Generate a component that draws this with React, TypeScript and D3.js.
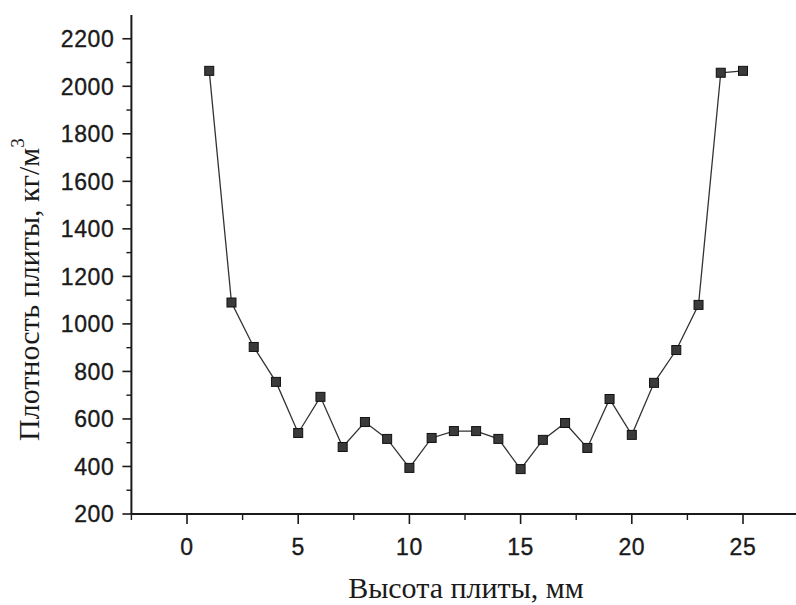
import React from "react";
import * as d3 from "d3";

const heights = [1, 2, 3, 4, 5, 6, 7, 8, 9, 10, 11, 12, 13, 14, 15, 16, 17, 18, 19, 20, 21, 22, 23, 24, 25];
const densities = [2065, 1090, 903, 756, 541, 693, 482, 587, 516, 394, 520, 549, 549, 516, 389, 512, 583, 478, 684, 533, 752, 890, 1080, 2057, 2065];
const xTicks = [0, 5, 10, 15, 20, 25];
const xMinorTicks = [-2.5, 2.5, 7.5, 12.5, 17.5, 22.5, 27.5];
const yTicks = [200, 400, 600, 800, 1000, 1200, 1400, 1600, 1800, 2000, 2200];
const yMinorTicks = [300, 500, 700, 900, 1100, 1300, 1500, 1700, 1900, 2100];
const xTitle = "Высота плиты, мм";
const yTitle = "Плотность плиты, кг/м";

export default function App() {
  const W = 796, H = 605;
  const x = d3.scaleLinear().domain([-2.5, 27.5]).range([131.4, 798.6]);
  const y = d3.scaleLinear().domain([200, 2300]).range([514, 15]);
  const x0 = x(-2.5);
  const yBase = y(200);
  const pts = heights.map((h, i) => [x(h), y(densities[i])] as [number, number]);
  const line = d3.line()(pts) || "";
  const tickFont = "'Liberation Sans', Arial, sans-serif";
  const titleFont = "'Liberation Serif', 'Times New Roman', serif";
  const ink = "#1a1a1a";
  return (
    <svg width={W} height={H} style={{ position: "absolute", left: 0, top: 0, background: "#fff" }}>
      <rect x={0} y={0} width={W} height={H} fill="#fff" />
      <line x1={x0} y1={y(2300)} x2={x0} y2={yBase} stroke={ink} strokeWidth={2} />
      <line x1={x0} y1={yBase} x2={W} y2={yBase} stroke={ink} strokeWidth={2} />
      {yTicks.map((t) => (
        <g key={"y" + t}>
          <line x1={x0 - 9} x2={x0} y1={y(t)} y2={y(t)} stroke={ink} strokeWidth={1.6} />
          <text x={x0 - 17} y={y(t)} dy="0.36em" textAnchor="end" fontFamily={tickFont} fontSize={23} fill={ink} stroke={ink} strokeWidth={0.35} letterSpacing={0.6}>
            {t}
          </text>
        </g>
      ))}
      {yMinorTicks.map((t) => (
        <line key={"ym" + t} x1={x0 - 5} x2={x0} y1={y(t)} y2={y(t)} stroke={ink} strokeWidth={1.4} />
      ))}
      {xTicks.map((t) => (
        <g key={"x" + t}>
          <line x1={x(t)} x2={x(t)} y1={yBase} y2={yBase + 10} stroke={ink} strokeWidth={1.6} />
          <text x={x(t)} y={555} textAnchor="middle" fontFamily={tickFont} fontSize={23} fill={ink} stroke={ink} strokeWidth={0.35} letterSpacing={0.6}>
            {t}
          </text>
        </g>
      ))}
      {xMinorTicks.map((t) => (
        <line key={"xm" + t} x1={x(t)} x2={x(t)} y1={yBase} y2={yBase + 6} stroke={ink} strokeWidth={1.4} />
      ))}
      <path d={line} fill="none" stroke="#333" strokeWidth={1.3} />
      {pts.map(([px, py], i) => (
        <rect key={"p" + i} x={px - 4.5} y={py - 4.5} width={9} height={9} fill="#3a3a3a" stroke="#111" strokeWidth={1} />
      ))}
      <text x={466} y={598} textAnchor="middle" fontFamily={titleFont} fontSize={30} fill={ink}>
        {xTitle}
      </text>
      <text transform={`translate(39,441) rotate(-90)`} textAnchor="start" fontFamily={titleFont} fontSize={30} fill={ink}>
        {yTitle}
        <tspan dy={-15} fontSize={19}>3</tspan>
      </text>
    </svg>
  );
}
